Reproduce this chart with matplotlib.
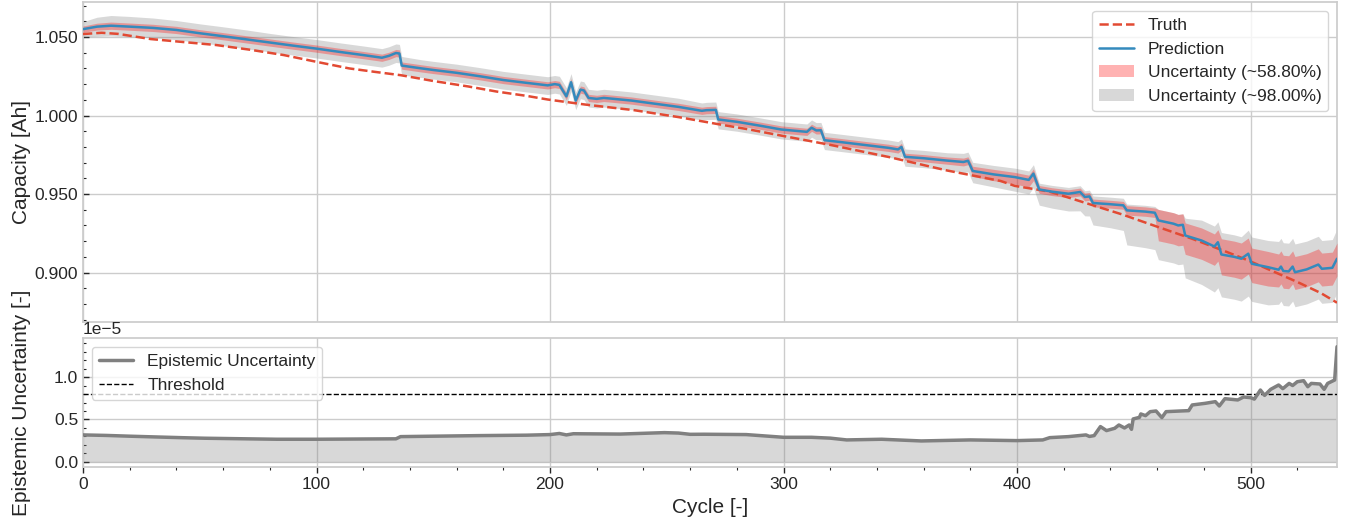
import numpy as np
import matplotlib
matplotlib.use("Agg")
import matplotlib.pyplot as plt

# ---------------- data ----------------
cycles = [0, 6, 12, 20, 30, 40, 50, 60, 70, 80,
          90, 100, 110, 120, 128, 131, 134, 135.5, 136.5, 145,
          150, 160, 170, 180, 190, 199, 202, 204, 207, 209,
          211, 213, 214.5, 216.5, 220, 223, 226, 235, 245, 255,
          265, 267, 271, 272, 280, 290, 299, 310, 312, 314,
          316, 317.5, 325, 335, 345, 349, 350.5, 352, 360, 370,
          377, 379, 381, 390, 399, 405, 407, 409.5, 415, 422,
          427, 429, 431, 432.5, 440, 445.5, 447, 455, 459, 460.5,
          467, 469, 471, 472, 479, 484.5, 486, 487.5, 493, 496,
          499, 500.5, 507.5, 512, 513, 514, 516.3, 518, 519, 524,
          529, 530.5, 535, 537]

prediction = [1.0550, 1.0566, 1.0572, 1.0566, 1.0558, 1.0545, 1.0524, 1.0505, 1.0485, 1.0465,
              1.0445, 1.0426, 1.0405, 1.0385, 1.0368, 1.0380, 1.0398, 1.0395, 1.0318, 1.0300,
              1.0290, 1.0272, 1.0250, 1.0226, 1.0208, 1.0192, 1.0200, 1.0195, 1.0122, 1.0212,
              1.0095, 1.0165, 1.0160, 1.0112, 1.0106, 1.0112, 1.0108, 1.0095, 1.0075, 1.0055,
              1.0030, 1.0034, 1.0036, 0.9975, 0.9960, 0.9935, 0.9911, 0.9896, 0.9922, 0.9905,
              0.9906, 0.9843, 0.9830, 0.9812, 0.9794, 0.9784, 0.9800, 0.9737, 0.9728, 0.9713,
              0.9704, 0.9712, 0.9647, 0.9625, 0.9608, 0.9590, 0.9630, 0.9529, 0.9515, 0.9502,
              0.9513, 0.9481, 0.9485, 0.9443, 0.9435, 0.9428, 0.9396, 0.9388, 0.9381, 0.9332,
              0.9311, 0.9300, 0.9304, 0.9236, 0.9204, 0.9166, 0.9193, 0.9115, 0.9100, 0.9088,
              0.9120, 0.9056, 0.9034, 0.9018, 0.9038, 0.9010, 0.9007, 0.9038, 0.9002, 0.9020,
              0.9051, 0.9024, 0.9030, 0.9088]

# band offsets relative to the prediction, in mAh (1e-3 Ah)
red_up = [2.0, 2.2, 2.3, 2.3, 2.3, 2.3, 2.3, 2.3, 2.3, 2.3,
          2.3, 2.3, 2.3, 2.3, 2.3, 2.3, 2.3, 2.3, 2.3, 2.3,
          2.3, 2.3, 2.3, 2.3, 2.3, 2.3, 2.3, 2.3, 2.3, 2.3,
          2.3, 2.3, 2.3, 2.3, 2.3, 2.3, 2.3, 2.3, 2.3, 2.3,
          2.3, 2.3, 2.3, 2.3, 2.3, 2.3, 2.3, 2.3, 2.3, 2.3,
          2.3, 2.3, 2.3, 2.3, 2.3, 2.3, 2.3, 2.3, 2.3, 2.3,
          2.5, 2.5, 3.0, 3.2, 3.0, 3.0, 3.0, 2.5, 2.5, 2.5,
          2.5, 2.5, 2.5, 2.5, 2.5, 2.5, 3.0, 3.0, 3.0, 7.0,
          7.0, 7.0, 7.0, 8.0, 8.0, 8.0, 8.0, 10.0, 10.0, 10.0,
          10.0, 10.0, 10.0, 10.0, 10.0, 10.0, 10.0, 10.0, 10.0, 10.0,
          10.0, 10.0, 10.0, 10.0]
red_dn = [2.0, 2.2, 2.3, 2.3, 2.3, 2.3, 2.3, 2.3, 2.3, 2.3,
          2.3, 2.3, 2.3, 2.3, 2.3, 2.3, 2.3, 2.3, 2.3, 2.3,
          2.3, 2.3, 2.3, 2.3, 2.3, 2.3, 2.3, 2.3, 2.3, 2.3,
          2.3, 2.3, 2.3, 2.3, 2.3, 2.3, 2.3, 2.3, 2.3, 2.3,
          2.3, 2.3, 2.3, 2.3, 2.3, 2.3, 2.3, 2.3, 2.3, 2.3,
          2.3, 2.3, 2.3, 2.3, 2.3, 2.3, 2.3, 2.3, 2.3, 2.3,
          2.5, 2.5, 3.5, 4.0, 4.5, 4.5, 4.5, 2.5, 2.5, 2.5,
          2.5, 2.5, 2.5, 2.5, 2.5, 2.5, 3.0, 3.0, 3.0, 13.0,
          13.0, 13.0, 13.0, 12.0, 12.0, 12.0, 12.0, 13.0, 13.0, 13.0,
          13.0, 12.0, 12.0, 11.0, 11.0, 11.0, 11.0, 11.0, 11.0, 11.0,
          11.0, 11.0, 11.0, 11.0]
gray_up = [4.8, 6.0, 6.5, 6.5, 6.3, 6.0, 6.0, 6.0, 6.0, 5.8,
           5.8, 5.8, 5.8, 5.8, 5.8, 5.8, 5.8, 5.8, 5.8, 5.5,
           5.5, 5.5, 5.5, 5.5, 5.5, 5.5, 5.5, 5.5, 5.5, 5.5,
           5.5, 5.5, 5.5, 5.5, 5.5, 5.5, 5.5, 5.5, 5.5, 5.5,
           5.0, 5.0, 5.0, 5.0, 5.0, 5.0, 5.0, 5.0, 5.0, 5.0,
           5.0, 5.0, 5.0, 5.0, 5.0, 5.0, 5.0, 5.0, 5.0, 5.0,
           5.5, 5.5, 5.5, 5.7, 5.7, 5.7, 5.7, 4.0, 4.0, 4.0,
           4.0, 4.0, 4.0, 4.5, 4.5, 4.5, 4.0, 4.0, 4.0, 7.0,
           7.0, 7.0, 7.0, 11.0, 13.0, 13.0, 13.0, 14.0, 14.0, 14.0,
           15.0, 17.0, 17.0, 18.0, 18.0, 18.0, 18.0, 18.0, 18.0, 18.0,
           18.0, 18.0, 18.0, 19.0]
gray_dn = [5.0, 6.2, 6.5, 6.5, 6.3, 6.2, 6.0, 6.0, 6.0, 6.0,
           6.0, 6.0, 6.0, 6.0, 6.0, 6.0, 6.0, 6.0, 6.0, 5.8,
           5.8, 5.8, 5.8, 5.8, 5.8, 5.8, 5.8, 5.8, 5.8, 5.8,
           5.8, 5.8, 5.8, 5.8, 5.8, 5.8, 5.8, 5.8, 5.8, 5.8,
           6.0, 6.0, 6.0, 6.0, 6.0, 6.0, 6.0, 6.0, 6.0, 6.0,
           6.0, 6.0, 6.0, 6.0, 6.0, 6.0, 6.0, 6.0, 6.0, 6.0,
           7.0, 7.0, 7.5, 8.0, 9.0, 9.0, 9.0, 10.0, 10.5, 11.0,
           12.0, 12.0, 12.5, 14.0, 15.0, 16.0, 22.0, 23.0, 23.5, 25.0,
           25.0, 25.0, 25.0, 27.0, 28.0, 29.0, 29.0, 27.0, 27.0, 27.0,
           27.0, 24.0, 24.0, 22.0, 22.0, 22.0, 22.0, 22.0, 22.0, 22.0,
           22.0, 22.0, 22.0, 22.0]

truth_cycles = [0, 8, 15, 29, 43, 57, 72, 86, 100, 114,
                125, 136, 150, 165, 177, 190, 199, 215, 236, 255,
                272, 285, 298, 320, 345, 370, 393, 399, 414, 430,
                445, 460, 475, 490, 499, 510, 520, 530, 537]
truth = [1.0519, 1.0527, 1.0520, 1.0487, 1.0468, 1.0449, 1.0418, 1.0385, 1.0342, 1.0300,
         1.0278, 1.0257, 1.0220, 1.0185, 1.0153, 1.0125, 1.0102, 1.0070, 1.0034, 0.9990,
         0.9945, 0.9912, 0.9875, 0.9813, 0.9736, 0.9650, 0.9583, 0.9552, 0.9515, 0.9440,
         0.9370, 0.9292, 0.9215, 0.9130, 0.9077, 0.9005, 0.8940, 0.8870, 0.8808]

epi_cycles = [0, 10, 20, 30, 43, 52, 70, 83, 100, 120,
              134, 136, 150, 170, 190, 200, 204, 207, 210, 230,
              249, 255, 260, 266, 284, 300, 312, 320, 327, 342,
              359, 380, 400, 411, 414, 422, 429.5, 431, 433, 435.7,
              438.3, 441.8, 443.6, 446, 448, 449, 449.7, 452.4, 453, 455,
              457, 459.5, 462, 463.8, 470, 473.5, 475, 480.5, 484.9, 486.6,
              489, 494.5, 497, 500, 501.6, 504.2, 506, 508.6, 512, 513.8,
              516.5, 518, 520, 522.7, 524.5, 526, 529.7, 531.5, 533, 536,
              537]
epi = [0.318, 0.312, 0.303, 0.295, 0.285, 0.279, 0.272, 0.267, 0.267, 0.270,
       0.272, 0.298, 0.303, 0.310, 0.315, 0.322, 0.335, 0.318, 0.332, 0.328,
       0.345, 0.340, 0.325, 0.326, 0.322, 0.290, 0.290, 0.280, 0.259, 0.267,
       0.247, 0.259, 0.251, 0.259, 0.286, 0.298, 0.318, 0.300, 0.310, 0.416,
       0.369, 0.396, 0.435, 0.400, 0.435, 0.384, 0.506, 0.525, 0.565, 0.545,
       0.592, 0.600, 0.522, 0.592, 0.600, 0.604, 0.671, 0.690, 0.710, 0.659,
       0.745, 0.730, 0.765, 0.757, 0.740, 0.847, 0.784, 0.855, 0.906, 0.863,
       0.925, 0.900, 0.945, 0.957, 0.886, 0.925, 0.918, 0.855, 0.925, 0.965,
       1.357]
epi_scale = 1e-5
threshold = 0.8e-5

# ---------------- style ----------------
plt.style.use("seaborn-v0_8-whitegrid")
plt.rcParams["font.family"] = ["Liberation Sans", "DejaVu Sans"]
plt.rcParams.update({
    "xtick.bottom": True, "ytick.left": True,
    "xtick.direction": "out", "ytick.direction": "in",
    "xtick.major.size": 4, "ytick.major.size": 4,
    "xtick.minor.size": 2.5, "ytick.minor.size": 2.5,
    "xtick.major.width": 1.0, "ytick.major.width": 1.0,
    "xtick.minor.width": 0.8, "ytick.minor.width": 0.8,
    "xtick.color": ".15", "ytick.color": ".15",
    "xtick.labelsize": 12.5, "ytick.labelsize": 12.5,
    "axes.labelsize": 15, "axes.labelcolor": ".15",
    "axes.edgecolor": ".8", "axes.linewidth": 1.25,
    "grid.color": ".8", "grid.linewidth": 1.0,
    "legend.fontsize": 12.5,
})

c = np.array(cycles)
p = np.array(prediction)
ru, rd = np.array(red_up) * 1e-3, np.array(red_dn) * 1e-3
gu, gd = np.array(gray_up) * 1e-3, np.array(gray_dn) * 1e-3

W, H = 1345, 519
fig = plt.figure(figsize=(W / 100, H / 100), dpi=100)
ax1 = fig.add_axes([83 / W, 1 - 322 / H, (1337 - 83) / W, 320 / H])
ax2 = fig.add_axes([83 / W, 1 - 467 / H, (1337 - 83) / W, 129 / H], sharex=ax1)

ax1.plot(truth_cycles, truth, ls="--", color="#E24A33", lw=1.8, label="Truth", zorder=4)
ax1.plot(c, p, color="#348ABD", lw=1.8, label="Prediction", zorder=5)
ax1.fill_between(c, p - rd, p + ru, color="red", alpha=0.3, lw=0,
                 label="Uncertainty (~58.80%)", zorder=3)
ax1.fill_between(c, p - gd, p + gu, color="gray", alpha=0.3, lw=0,
                 label="Uncertainty (~98.00%)", zorder=2)
ax1.set_ylabel("Capacity [Ah]")
ax1.set_ylim(0.8685, 1.0723)
ax1.set_yticks([0.90, 0.95, 1.00, 1.05])
ax1.yaxis.set_major_formatter(matplotlib.ticker.FormatStrFormatter("%.3f"))
ax1.minorticks_on()
ax1.tick_params(axis="x", which="both", length=0, labelbottom=False)
ax1.legend(loc="upper right", frameon=True, framealpha=0.8, edgecolor=".8")

e = np.array(epi) * epi_scale
ax2.plot(epi_cycles, e, color="gray", lw=2.5, label="Epistemic Uncertainty", zorder=4)
ax2.fill_between(epi_cycles, 0, e, color="gray", alpha=0.3, lw=0, zorder=2)
ax2.axhline(threshold, color="black", ls="--", lw=1.0, label="Threshold", zorder=3)
ax2.set_ylim(-0.06e-5, 1.46e-5)
ax2.set_yticks([0.0, 0.5e-5, 1.0e-5])
ax2.set_xlim(0, cycles[-1])
ax2.set_xticks([0, 100, 200, 300, 400, 500])
ax2.minorticks_on()
ax2.set_xlabel("Cycle [-]")
ax2.set_ylabel("Epistemic Uncertainty [-]")
ax2.yaxis.get_offset_text().set_fontsize(12.5)
ax2.legend(loc="upper left", frameon=True, framealpha=0.8, edgecolor=".8")

# both y labels sit at the same horizontal position
lab_x = (31 - 83) / (1337 - 83)
ax1.yaxis.set_label_coords(lab_x, 0.5)
ax2.yaxis.set_label_coords(lab_x, 0.5)

fig.savefig("out.png", dpi=100)
